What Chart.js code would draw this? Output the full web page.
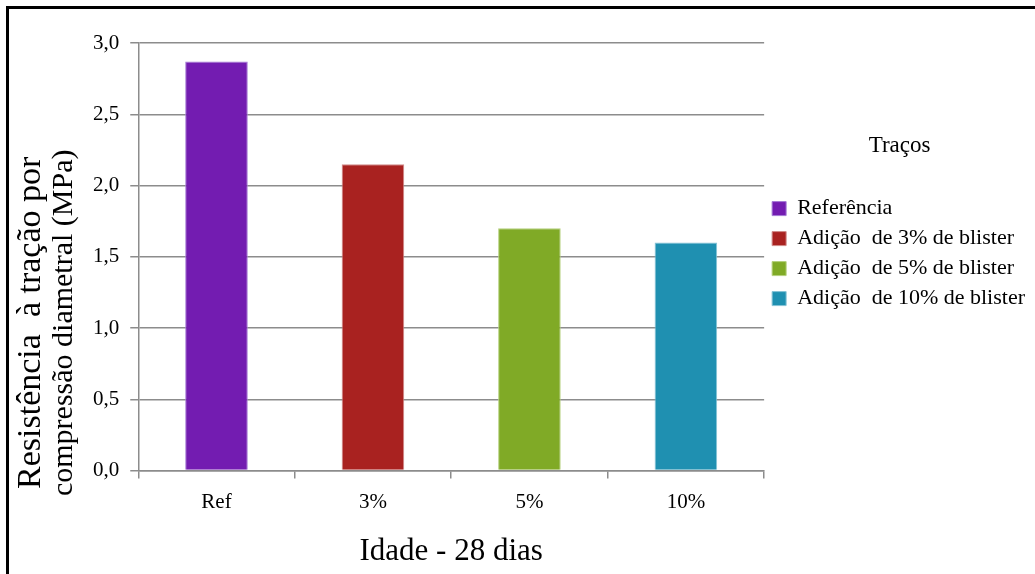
<!DOCTYPE html>
<html>
<head>
<meta charset="utf-8">
<script src="https://cdn.jsdelivr.net/npm/chart.js@4"></script>
<style>
  html, body { margin: 0; padding: 0; background: #fff; }
  #myChart { display: block; }
</style>
</head>
<body>
<canvas id="myChart" width="1035" height="574"></canvas>
<script>
// resistance values at 28 days
let categories = ['Ref', '3%', '5%', '10%'];
let seriesNames = ['Referência', 'Adição  de 3% de blister', 'Adição  de 5% de blister', 'Adição  de 10% de blister'];
let values = [2.87, 2.15, 1.70, 1.60];
let barColors = ['#731cb1', '#a92220', '#80aa26', '#1f90b1'];
let barBorders = ['#a47ad6', '#d08a88', '#b4d07c', '#86c3d6'];
let yTitleLines = ['Resistência  à tração por', 'compressão diametral (MPa)'];

let serif = '"Liberation Serif", "Times New Roman", serif';

// white page with the black frame on top and left
let framePlugin = {
  id: 'frame',
  beforeDraw(chart) {
    let ctx = chart.ctx;
    ctx.save();
    ctx.fillStyle = '#fff';
    ctx.fillRect(0, 0, chart.width, chart.height);
    ctx.fillStyle = '#000';
    ctx.fillRect(6, 6, chart.width - 6, 3);
    ctx.fillRect(6, 6, 3, chart.height - 6);
    ctx.restore();
  }
};

// two-line rotated y title, sits a bit low like the original
let yTitlePlugin = {
  id: 'yTitle',
  afterDraw(chart) {
    let ctx = chart.ctx;
    let area = chart.chartArea;
    let cy = (area.top + area.bottom) / 2 + 66;
    ctx.save();
    ctx.translate(0, cy);
    ctx.rotate(-Math.PI / 2);
    ctx.fillStyle = '#000';
    ctx.textAlign = 'center';
    ctx.textBaseline = 'middle';
    ctx.font = '34px ' + serif;
    ctx.fillText(yTitleLines[0], 0, 31);
    ctx.font = '30px ' + serif;
    ctx.fillText(yTitleLines[1], 0, 64);
    ctx.restore();
  }
};

let ctx = document.getElementById('myChart').getContext('2d');
let myChart = new Chart(ctx, {
  type: 'bar',
  data: {
    labels: categories,
    datasets: [{
      label: 'Idade - 28 dias',
      data: values,
      backgroundColor: barColors,
      borderColor: barBorders,
      borderWidth: 1,
      categoryPercentage: 1,
      barPercentage: 0.4
    }]
  },
  options: {
    responsive: false,
    animation: false,
    layout: {
      padding: { left: 82, top: 43, bottom: 4, right: 0 }
    },
    plugins: {
      tooltip: { enabled: false },
      legend: {
        position: 'right',
        align: 'start',
        maxWidth: 275,
        onClick: null,
        title: {
          display: true,
          text: 'Traços',
          color: '#000',
          font: { family: serif, size: 23 },
          padding: { top: 91, bottom: 28 }
        },
        labels: {
          color: '#000',
          font: { family: serif, size: 22 },
          boxWidth: 14,
          boxHeight: 14,
          padding: 8,
          generateLabels() {
            return seriesNames.map((name, i) => ({
              text: name,
              fillStyle: barColors[i],
              strokeStyle: barBorders[i],
              lineWidth: 1,
              index: i
            }));
          }
        }
      }
    },
    scales: {
      x: {
        grid: {
          drawOnChartArea: false,
          drawTicks: true,
          tickLength: 8,
          color: '#8c8c8c',
          lineWidth: 1.5
        },
        border: { color: '#8c8c8c', width: 1.5 },
        ticks: {
          color: '#000',
          padding: 11,
          font: { family: serif, size: 21 }
        },
        title: {
          display: true,
          text: 'Idade - 28 dias',
          color: '#000',
          font: { family: serif, size: 31 },
          padding: { top: 7, bottom: 0 }
        }
      },
      y: {
        min: 0,
        max: 3,
        ticks: {
          stepSize: 0.5,
          color: '#000',
          padding: 11,
          font: { family: serif, size: 21 },
          callback: v => v.toFixed(1).replace('.', ',')
        },
        grid: {
          color: '#8c8c8c',
          lineWidth: 1.5,
          tickLength: 8
        },
        border: { color: '#8c8c8c', width: 1.5 }
      }
    }
  },
  plugins: [framePlugin, yTitlePlugin]
});
</script>
</body>
</html>
